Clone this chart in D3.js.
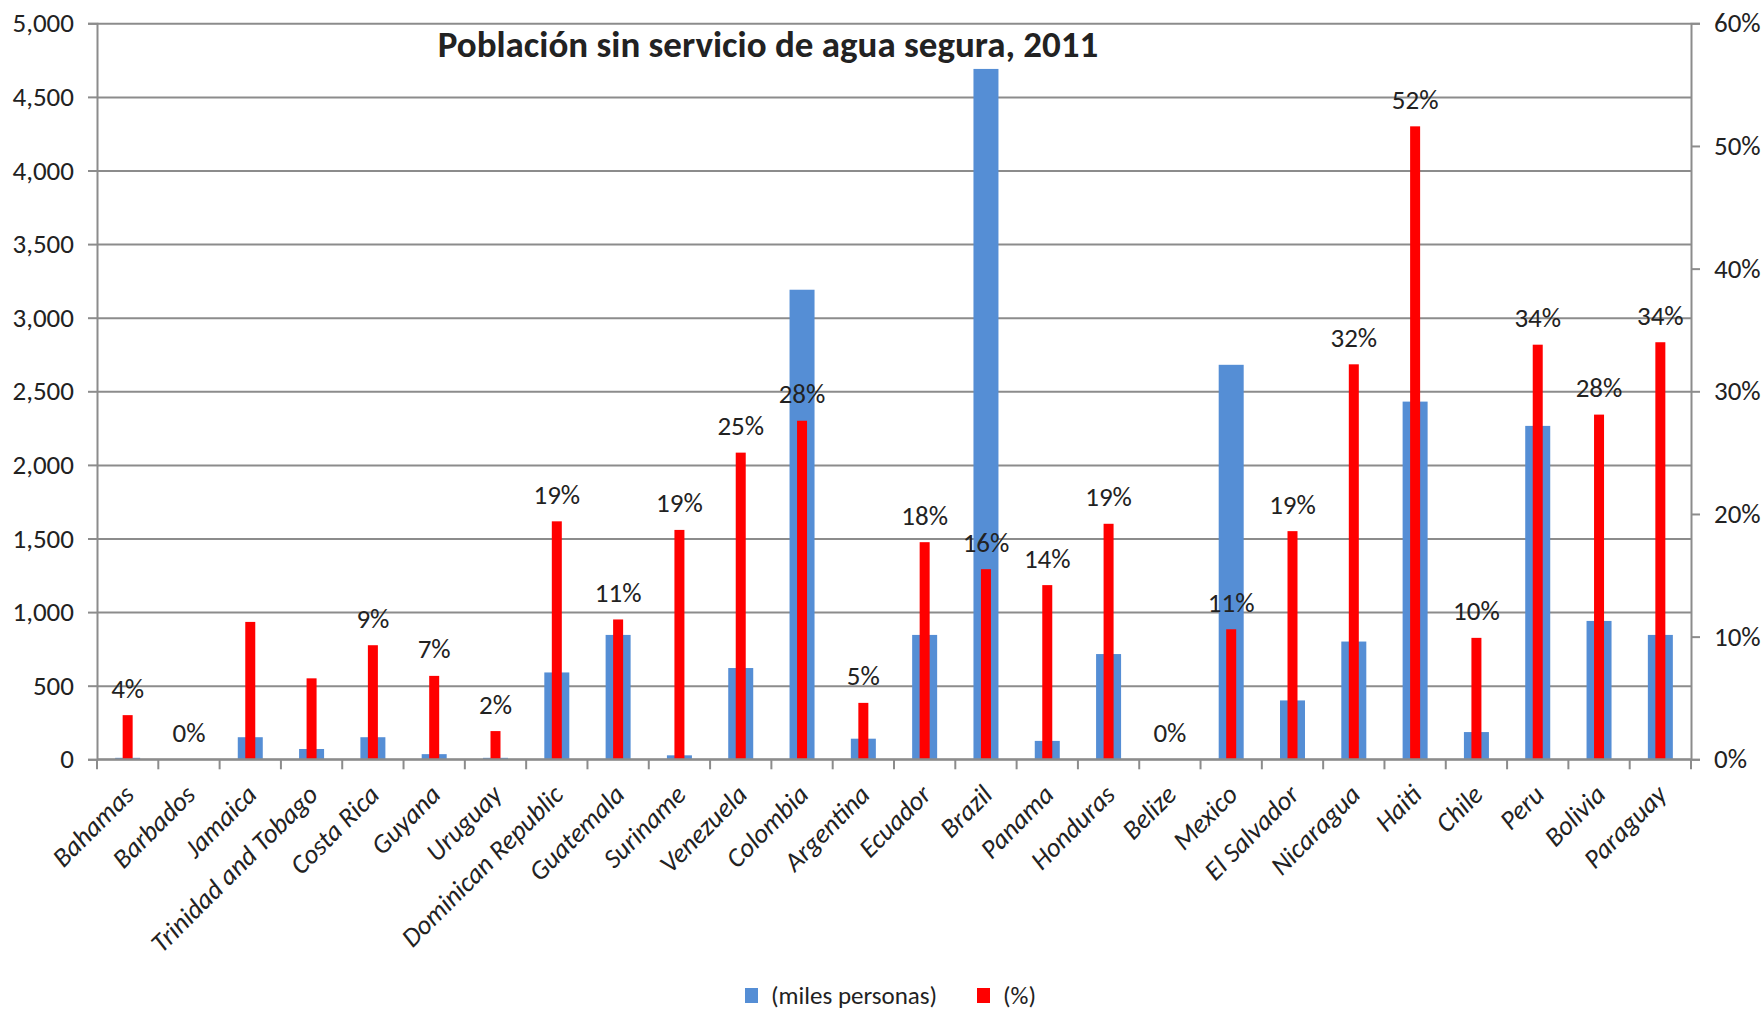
<!DOCTYPE html>
<html>
<head>
<meta charset="utf-8">
<script src="https://cdn.jsdelivr.net/npm/d3@7"></script>
<style>
  body { margin: 0; background: #fff; }
  text { font-family: Carlito, Calibri, Lato, sans-serif; fill: #222; }
</style>
</head>
<body>
<script>
var countries = ["Bahamas", "Barbados", "Jamaica", "Trinidad and Tobago", "Costa Rica", "Guyana",
  "Uruguay", "Dominican Republic", "Guatemala", "Suriname", "Venezuela", "Colombia", "Argentina",
  "Ecuador", "Brazil", "Panama", "Honduras", "Belize", "Mexico", "El Salvador", "Nicaragua",
  "Haiti", "Chile", "Peru", "Bolivia", "Paraguay"];

// (miles personas)
var miles = [10, 0, 150, 70, 150, 35, 10, 590, 845, 27, 620, 3190, 140, 845, 4690, 125, 715, 0,
  2680, 400, 800, 2430, 185, 2265, 940, 845];

// (%)
var pct = [3.6, 0, 11.2, 6.6, 9.3, 6.8, 2.3, 19.4, 11.4, 18.7, 25.0, 27.6, 4.6, 17.7, 15.5, 14.2,
  19.2, 0, 10.6, 18.6, 32.2, 51.6, 9.9, 33.8, 28.1, 34.0];

// data labels shown on the chart (Jamaica and Trinidad have none)
var pctLabels = ["4%", "0%", "", "", "9%", "7%", "2%", "19%", "11%", "19%", "25%", "28%", "5%",
  "18%", "16%", "14%", "19%", "0%", "11%", "19%", "32%", "52%", "10%", "34%", "28%", "34%"];

var leftTicks = [0, 500, 1000, 1500, 2000, 2500, 3000, 3500, 4000, 4500, 5000];
var rightTicks = [0, 10, 20, 30, 40, 50, 60];

var width = 1763, height = 1011;
var plotL = 97, plotR = 1691, plotT = 23.3, plotB = 759.3;

var svg = d3.select("body").append("svg")
  .attr("width", width)
  .attr("height", height);

svg.append("rect").attr("width", width).attr("height", height).attr("fill", "#fff");

var x = d3.scaleBand().domain(countries).range([plotL, plotR]).padding(0);
var y = d3.scaleLinear().domain([0, 5000]).range([plotB, plotT]);
var y2 = d3.scaleLinear().domain([0, 60]).range([plotB, plotT]);

var grey = "#8c8c8c";

// gridlines
svg.append("g")
  .attr("transform", "translate(" + plotL + ",0)")
  .call(d3.axisLeft(y).tickValues(leftTicks).tickSize(-(plotR - plotL)).tickFormat(""))
  .call(function (g) {
    g.select(".domain").remove();
    g.selectAll("line").attr("stroke", grey).attr("stroke-width", 2);
  });

// left axis
svg.append("g")
  .attr("transform", "translate(" + plotL + ",0)")
  .call(d3.axisLeft(y).tickValues(leftTicks).tickSize(9).tickPadding(14).tickFormat(d3.format(",")))
  .call(function (g) {
    g.select(".domain").attr("stroke", grey).attr("stroke-width", 2);
    g.selectAll("line").attr("stroke", grey).attr("stroke-width", 2);
    g.selectAll("text").style("font-size", "27px").attr("fill", "#222");
  });

// right axis
svg.append("g")
  .attr("transform", "translate(" + plotR + ",0)")
  .call(d3.axisRight(y2).tickValues(rightTicks).tickSize(9).tickPadding(14).tickFormat(function (d) { return d + "%"; }))
  .call(function (g) {
    g.select(".domain").attr("stroke", grey).attr("stroke-width", 2);
    g.selectAll("line").attr("stroke", grey).attr("stroke-width", 2);
    g.selectAll("text").style("font-size", "27px").attr("fill", "#222");
  });

// bottom ticks at category boundaries
var bounds = countries.map(function (c) { return x(c); }).concat([plotR]);
svg.append("g").selectAll("line")
  .data(bounds)
  .enter().append("line")
  .attr("x1", function (d) { return d; })
  .attr("x2", function (d) { return d; })
  .attr("y1", plotB)
  .attr("y2", plotB + 10)
  .attr("stroke", grey)
  .attr("stroke-width", 2);

var bw = x.bandwidth();
var blueW = 25, redW = 10;

svg.append("g").selectAll("rect")
  .data(countries)
  .enter().append("rect")
  .attr("x", function (d) { return x(d) + bw / 2 - blueW / 2; })
  .attr("y", function (d, i) { return y(miles[i]); })
  .attr("width", blueW)
  .attr("height", function (d, i) { return plotB - y(miles[i]); })
  .attr("fill", "#558ed5");

svg.append("g").selectAll("rect")
  .data(countries)
  .enter().append("rect")
  .attr("x", function (d) { return x(d) + bw / 2 - redW / 2; })
  .attr("y", function (d, i) { return y2(pct[i]); })
  .attr("width", redW)
  .attr("height", function (d, i) { return plotB - y2(pct[i]); })
  .attr("fill", "#ff0000");

// baseline on top of bars
svg.append("line")
  .attr("x1", plotL).attr("x2", plotR)
  .attr("y1", plotB).attr("y2", plotB)
  .attr("stroke", grey).attr("stroke-width", 2);

// data labels
svg.append("g").selectAll("text")
  .data(countries)
  .enter().append("text")
  .attr("x", function (d) { return x(d) + bw / 2; })
  .attr("y", function (d, i) { return y2(pct[i]) - 27; })
  .attr("text-anchor", "middle")
  .attr("dominant-baseline", "central")
  .style("font-size", "27px")
  .text(function (d, i) { return pctLabels[i]; });

// category labels
svg.append("g").selectAll("text")
  .data(countries)
  .enter().append("text")
  .attr("transform", function (d) {
    return "translate(" + (x(d) + bw / 2 + 8) + "," + (plotB + 37) + ") rotate(-45)";
  })
  .attr("text-anchor", "end")
  .style("font-size", "27px")
  .style("font-style", "italic")
  .text(function (d) { return d; });

// title
svg.append("text")
  .attr("x", 768)
  .attr("y", 57)
  .attr("text-anchor", "middle")
  .style("font-size", "37px")
  .style("font-weight", "bold")
  .attr("fill", "#000")
  .text("Población sin servicio de agua segura, 2011");

// legend
var legend = [
  { name: "(miles personas)", color: "#558ed5", x: 745 },
  { name: "(%)", color: "#ff0000", x: 977 }
];
var lg = svg.append("g").selectAll("g")
  .data(legend)
  .enter().append("g")
  .attr("transform", function (d) { return "translate(" + d.x + ",988)"; });
lg.append("rect").attr("width", 13).attr("height", 15).attr("fill", function (d) { return d.color; });
lg.append("text")
  .attr("x", 26)
  .attr("y", 7)
  .attr("dominant-baseline", "central")
  .style("font-size", "25px")
  .text(function (d) { return d.name; });
</script>
</body>
</html>
